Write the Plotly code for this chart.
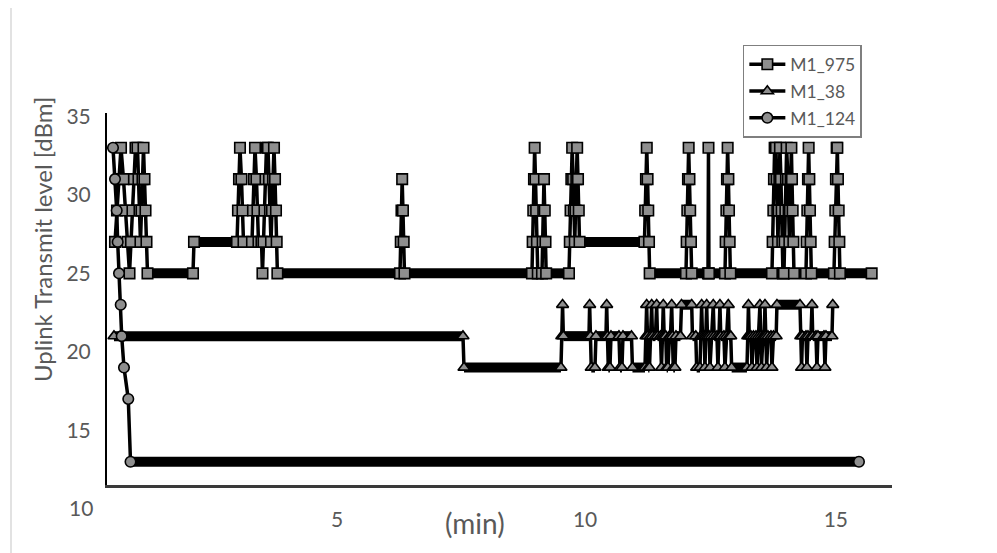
import plotly.graph_objects as go

# ---------------- data (time in minutes, level in dBm) ----------------
t_975 = [0.287, 0.328, 0.369, 0.410, 0.461, 0.502, 0.543, 0.584, 0.615, 0.645, 0.676, 0.707, 0.748,
         0.768, 0.789, 0.809, 0.830, 0.850, 0.871, 0.891, 0.912, 0.932, 0.953,
         1.885, 1.906, 2.787, 2.807, 2.828, 2.848, 2.879, 2.900, 2.920,
         3.094, 3.115, 3.135, 3.156, 3.186, 3.207, 3.227, 3.289, 3.309, 3.330, 3.350, 3.371, 3.391,
         3.422, 3.443, 3.463, 3.484, 3.504, 3.525, 3.545, 3.566, 3.586, 3.600, 3.615,
         6.127, 6.143, 6.158, 6.172, 6.188, 6.203, 6.219,
         8.832, 8.846, 8.859, 8.873, 8.887, 8.904, 8.918, 8.934, 8.951,
         9.037, 9.051, 9.064, 9.078, 9.094, 9.109, 9.123,
         9.590, 9.607, 9.623, 9.639, 9.656, 9.676, 9.693, 9.709, 9.725, 9.742, 9.758, 9.775, 9.791, 9.807,
         11.137, 11.152, 11.168, 11.184, 11.201, 11.215, 11.230, 11.244,
         11.988, 12.002, 12.016, 12.029, 12.043, 12.059, 12.074, 12.090, 12.105,
         12.439, 12.449, 12.459,
         12.787, 12.801, 12.816, 12.828, 12.842, 12.857, 12.869, 12.883, 12.898,
         13.750, 13.764, 13.779, 13.791, 13.805, 13.832, 13.846, 13.861, 13.873, 13.887, 13.902, 13.914,
         13.934, 13.949, 13.963, 13.975, 13.996, 14.010, 14.025, 14.037, 14.051, 14.078, 14.092, 14.107,
         14.119, 14.133, 14.148, 14.160, 14.174, 14.189, 14.201,
         14.447, 14.461, 14.475, 14.488, 14.502, 14.516, 14.529, 14.543, 14.557,
         15.020, 15.035, 15.049, 15.061, 15.076, 15.090, 15.102, 15.117, 15.131, 15.143,
         15.793]
v_975 = [27, 29, 31, 33, 31, 29, 27, 25, 27, 29, 31, 33, 33,
         31, 29, 27, 29, 31, 33, 31, 29, 27, 25,
         25, 27, 27, 29, 31, 33, 31, 29, 27,
         27, 29, 31, 33, 31, 29, 27, 27, 25, 27, 29, 31, 33,
         33, 31, 29, 27, 29, 31, 33, 31, 29, 27, 25,
         25, 27, 29, 31, 29, 27, 25,
         25, 27, 29, 31, 33, 31, 29, 27, 25,
         25, 27, 29, 31, 29, 27, 25,
         25, 27, 29, 31, 33, 31, 29, 27, 29, 31, 33, 31, 29, 27,
         27, 29, 31, 33, 31, 29, 27, 25,
         25, 27, 29, 31, 33, 31, 29, 27, 25,
         25, 33, 25,
         25, 27, 29, 31, 33, 31, 29, 27, 25,
         25, 27, 29, 31, 33, 33, 31, 29, 27, 29, 31, 33,
         31, 29, 27, 25, 25, 27, 29, 31, 33, 31, 29, 27,
         29, 31, 33, 31, 29, 27, 25,
         25, 27, 29, 31, 33, 31, 29, 27, 25,
         25, 27, 29, 31, 33, 33, 31, 29, 27, 25,
         25]

t_38 = [0.266, 7.418, 7.439, 9.426, 9.443, 9.459, 9.475, 10.000, 10.014, 10.031, 10.047, 10.123, 10.143,
        10.348, 10.363, 10.379, 10.396, 10.430, 10.451, 10.615, 10.635, 10.676, 10.697, 10.871, 10.891,
        11.148, 11.168, 11.182, 11.199, 11.213, 11.240, 11.260, 11.285, 11.301, 11.363, 11.387, 11.404,
        11.465, 11.486, 11.506, 11.523, 11.541, 11.574, 11.592, 11.619, 11.650, 11.670, 11.695, 11.711,
        11.727, 11.762, 11.783, 11.875, 11.896, 12.105, 12.121, 12.189, 12.207, 12.275, 12.291, 12.309,
        12.326, 12.361, 12.377, 12.393, 12.412, 12.428, 12.463, 12.480, 12.510, 12.547, 12.566, 12.623,
        12.643, 12.668, 12.684, 12.701, 12.766, 12.787, 12.818, 12.855, 12.873, 12.906, 12.924, 13.238,
        13.254, 13.268, 13.285, 13.320, 13.340, 13.371, 13.422, 13.443, 13.473, 13.504, 13.520, 13.535,
        13.566, 13.590, 13.607, 13.623, 13.641, 13.668, 13.730, 13.750, 13.781, 13.836, 13.852, 14.324,
        14.340, 14.357, 14.375, 14.447, 14.467, 14.488, 14.549, 14.570, 14.586, 14.652, 14.672, 14.693,
        14.816, 14.836, 14.857, 14.980, 14.996]
v_38 = [21, 21, 19, 19, 21, 23, 21, 21, 23, 21, 19, 19, 21,
        21, 23, 21, 19, 19, 21, 21, 19, 19, 21, 21, 19,
        19, 21, 23, 21, 19, 19, 21, 23, 21, 21, 23, 21,
        21, 19, 21, 23, 21, 21, 19, 19, 21, 21, 23, 21,
        19, 19, 21, 21, 23, 23, 21, 21, 19, 19, 21, 23,
        21, 21, 19, 21, 23, 21, 21, 19, 21, 23, 21, 21,
        19, 21, 23, 21, 21, 19, 21, 23, 21, 21, 19, 19,
        21, 23, 21, 21, 19, 21, 21, 19, 21, 23, 21, 19,
        21, 21, 23, 21, 19, 21, 21, 19, 21, 21, 23, 23,
        21, 19, 21, 21, 19, 21, 21, 23, 21, 21, 19, 21,
        21, 19, 21, 21, 23]

t_124 = [0.246, 0.287, 0.322, 0.342, 0.369, 0.404, 0.424, 0.471, 0.559, 0.605, 15.533]
v_124 = [33, 31, 29, 27, 25, 23, 21, 19, 17, 13, 13]

series_names = ["M1_975", "M1_38", "M1_124"]
series_symbols = ["square", "triangle-up", "circle"]
x_tickvals = [4.84, 9.92, 15.06]
x_ticktext = ["5", "10", "15"]
y_tickvals = [15, 20, 25, 30, 35]

FONT = "Lato"
GREY_TXT = "#595959"


def runs(t, v):
    xs, ys = [], []
    for i in range(len(t) - 1):
        if v[i] == v[i + 1]:
            xs += [t[i], t[i + 1], None]
            ys += [v[i], v[i + 1], None]
    return xs, ys


fig = go.Figure()
for name, sym, t, v in zip(series_names, series_symbols,
                           [t_975, t_38, t_124], [v_975, v_38, v_124]):
    bx, by = runs(t, v)
    fig.add_trace(go.Scatter(x=bx, y=by, mode="lines", line=dict(color="black", width=10),
                             showlegend=False, hoverinfo="skip", legendgroup=name))
    fig.add_trace(go.Scatter(x=t, y=v, mode="lines+markers", name=name, legendgroup=name,
                             line=dict(color="black", width=3.5),
                             marker=dict(symbol=sym, size=10.5, color="#8e8e8e",
                                         line=dict(color="black", width=1.6))))

fig.update_layout(
    width=989, height=545,
    margin=dict(l=99, r=105, t=105, b=68),
    paper_bgcolor="white", plot_bgcolor="white",
    font=dict(family=FONT, color=GREY_TXT),
    showlegend=True,
    legend=dict(x=0.81, y=1.183, xanchor="left", yanchor="top",
                bordercolor="#7f7f7f", borderwidth=1.5, bgcolor="white",
                font=dict(size=17.5, color=GREY_TXT, family=FONT),
                itemwidth=36, tracegroupgap=1),
    xaxis=dict(range=[0.123, 16.21], showgrid=False, zeroline=False,
               showline=True, linecolor="#3a3a3a", linewidth=2.5,
               tickvals=x_tickvals, ticktext=x_ticktext, ticks="",
               tickfont=dict(size=21, color=GREY_TXT, family=FONT), ticklabelstandoff=14),
    yaxis=dict(range=[11.52, 35.21], showgrid=False, zeroline=False,
               showline=True, linecolor="black", linewidth=2,
               tickvals=y_tickvals, ticks="",
               tickfont=dict(size=21, color=GREY_TXT, family=FONT), ticklabelstandoff=10),
    annotations=[
        dict(text="Uplink Transmit level [dBm]", textangle=-90, xref="paper", yref="paper",
             x=-0.0828, y=0.6586, xanchor="center", yanchor="middle", showarrow=False,
             font=dict(size=24, color=GREY_TXT, family=FONT)),
        dict(text="(min)", xref="paper", yref="paper", x=0.4688, y=-0.102,
             xanchor="center", yanchor="middle", showarrow=False,
             font=dict(size=28, color=GREY_TXT, family=FONT)),
        dict(text="10", xref="paper", yref="paper", x=-0.0331, y=-0.0618,
             xanchor="center", yanchor="middle", showarrow=False,
             font=dict(size=21, color=GREY_TXT, family=FONT)),
    ],
    shapes=[dict(type="rect", xref="paper", yref="paper", x0=-0.1223, y0=1.285,
                 x1=1.3, y1=-0.4, line=dict(color="#d9d9d9", width=1.5), layer="below")],
)

fig.write_html("out.html")
